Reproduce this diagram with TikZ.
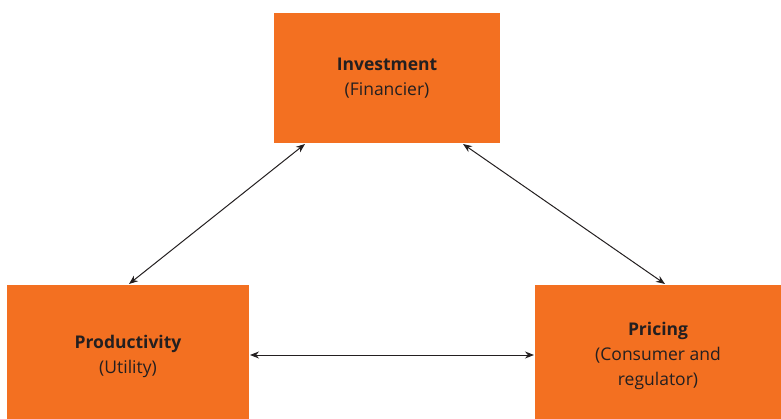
\documentclass[tikz,border=0pt]{standalone}
\usepackage{fontspec}
\setmainfont{Open Sans}
\usetikzlibrary{arrows.meta}
\definecolor{boxorange}{HTML}{F37021}
\definecolor{txt}{HTML}{231F20}
\begin{document}
\begin{tikzpicture}[x=1pt,y=-1pt,
  box/.style={fill=boxorange, draw=none, inner sep=0pt, align=center, text=txt, font=\fontsize{17.5}{25}\selectfont},
  link/.style={draw=txt, line width=1pt, {Stealth[length=9pt,width=7pt]}-{Stealth[length=9pt,width=7pt]}}]
\useasboundingbox (0,0) rectangle (781,419);
\node[box, minimum width=226pt, minimum height=130pt] (inv) at (387,78) {\textbf{Investment}\\(Financier)};
\node[box, minimum width=242pt, minimum height=142pt] (prod) at (128,356) {\textbf{Productivity}\\(Utility)};
\node[box, minimum width=246pt, minimum height=142pt] (pric) at (658,356) {\textbf{Pricing}\\(Consumer and\\regulator)};
\coordinate (a1) at (305,144);
\coordinate (a2) at (129,284);
\coordinate (b1) at (463,144);
\coordinate (b2) at (665,284);
\coordinate (c1) at (250,355);
\coordinate (c2) at (534,355);
\draw[link] (a1) -- (a2);
\draw[link] (b1) -- (b2);
\draw[link] (c1) -- (c2);
\end{tikzpicture}
\end{document}
